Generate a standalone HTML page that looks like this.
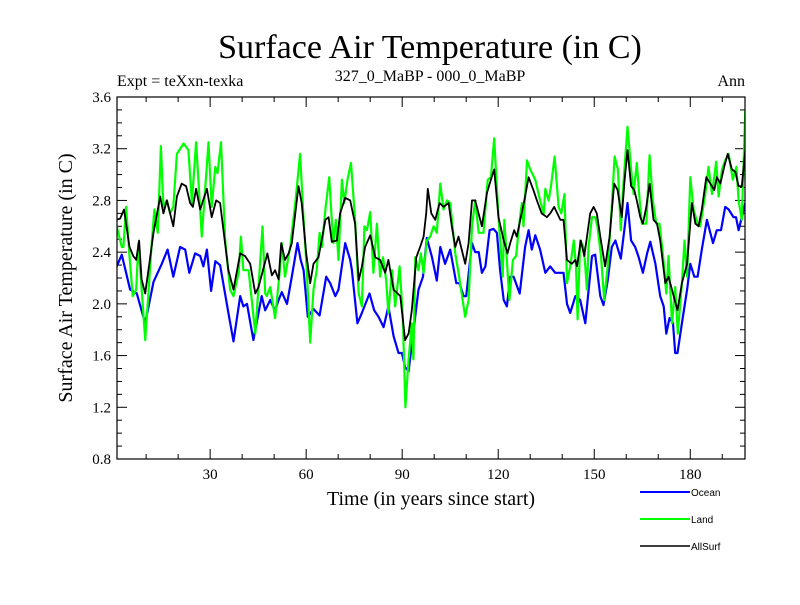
<!DOCTYPE html>
<html><head><meta charset="utf-8"><style>
body{margin:0;background:#fff;}
svg text{font-family:"Liberation Serif",serif;}
</style></head><body>
<svg id="chart" width="800" height="600" xmlns="http://www.w3.org/2000/svg">
<text x="430" y="58" font-size="34" text-anchor="middle">Surface Air Temperature (in C)</text>
<text x="117" y="86" font-size="16">Expt = teXxn-texka</text>
<text x="430" y="81" font-size="16" text-anchor="middle">327_0_MaBP - 000_0_MaBP</text>
<text x="745" y="86" font-size="16" text-anchor="end">Ann</text>
<text transform="translate(72,278) rotate(-90)" font-size="20" text-anchor="middle">Surface Air Temperature (in C)</text>
<text x="431" y="505" font-size="20" text-anchor="middle">Time (in years since start)</text>
<g id="axes"></g>
<defs><clipPath id="clip"><rect x="117" y="97" width="628" height="362"/></clipPath></defs>
<g id="series" clip-path="url(#clip)"></g>
<rect x="117" y="97" width="628" height="362" fill="none" stroke="#000" stroke-width="1.2"/>
<g font-family="Liberation Sans, sans-serif" font-size="10">
<line x1="640" y1="492" x2="690" y2="492" stroke="#0000ff" stroke-width="2"/>
<text x="691" y="496" style="font-family:'Liberation Sans',sans-serif" font-size="10">Ocean</text>
<line x1="640" y1="519" x2="690" y2="519" stroke="#00ff00" stroke-width="2"/>
<text x="691" y="523" style="font-family:'Liberation Sans',sans-serif" font-size="10">Land</text>
<line x1="640" y1="546" x2="690" y2="546" stroke="#000" stroke-width="1.5"/>
<text x="691" y="550" style="font-family:'Liberation Sans',sans-serif" font-size="10">AllSurf</text>
</g>
</svg>
<script>
const oceanYears=[0.8,2.4,5,7.1,9.7,12.3,14.9,16.7,18.5,20.6,22.2,23.5,25.3,26.9,27.9,29,30.3,31.6,33.1,35.7,37.3,39.4,40.4,41.5,43.5,46.1,47.2,48.75,50.3,51.4,52.4,54,55.5,57.3,58.3,59.2,60.5,62.3,64.2,66.25,67.5,69.1,70.1,72.2,73.75,74.3,76,77.4,79.8,81.25,82.6,84.2,85.7,87.3,88.85,89.9,90.9,92,93.3,95.1,96.5,97.7,99.3,100.8,101.9,103.4,105,106.9,107.9,109.2,110,111.8,112.8,113.9,114.9,116,117.3,118.5,119.6,120.6,121.7,122.7,123.75,124.8,126.7,128.4,129.5,130.5,131.6,133.1,134.7,136.25,137.8,139.4,140.4,141.5,142.5,144.1,145.6,147.2,149.3,150.3,151.9,152.9,154.2,155.5,156.6,158.3,159.4,160.4,161.5,162.8,163.9,165.2,166.5,167.5,169.1,170.6,171.7,172.5,173.5,174.6,175.3,176,177.4,179,180,181.25,182.3,183.6,185.2,187.1,188.3,189.6,190.9,192,193.5,194.3,195.1,196.1,197.2];
const oceanVals=[2.29,2.38,2.11,2.08,1.85,2.17,2.31,2.42,2.21,2.44,2.42,2.24,2.39,2.37,2.29,2.42,2.1,2.33,2.30,1.93,1.71,2.06,1.98,2.0,1.72,2.06,1.95,2.03,1.95,2.03,2.09,2.0,2.21,2.47,2.34,2.26,1.90,1.96,1.91,2.21,2.16,2.06,2.11,2.47,2.34,2.26,1.85,1.93,2.08,1.95,1.90,1.82,1.98,1.75,1.62,1.62,1.51,1.48,1.75,2.11,2.21,2.51,2.36,2.18,2.44,2.31,2.42,2.16,2.16,2.06,2.06,2.47,2.40,2.40,2.24,2.29,2.57,2.58,2.55,2.26,2.03,1.98,2.21,2.21,2.08,2.44,2.57,2.42,2.53,2.42,2.24,2.29,2.24,2.24,2.24,2.0,1.93,2.06,2.03,1.85,2.37,2.38,2.06,1.99,2.18,2.44,2.49,2.35,2.57,2.78,2.49,2.44,2.36,2.24,2.39,2.48,2.31,2.06,1.98,1.77,1.89,1.85,1.62,1.62,1.85,2.11,2.31,2.21,2.21,2.42,2.65,2.47,2.57,2.57,2.75,2.73,2.67,2.67,2.57,2.67,2.78];
const landYears=[0.8,2.4,2.9,3.75,4.8,5.8,6.9,7.6,9.7,10.7,11.8,12.6,13.65,14.6,15.4,16.5,17.5,18.5,19.6,21.7,23.2,24.3,25.6,27.4,29.5,30.5,31.6,32.3,33.4,34.7,36.25,37.3,38.9,39.6,40.4,42,44.1,45.1,46.35,47.2,47.7,48.75,50.3,51.8,52.4,53.4,55,56.6,58.1,59.2,60.2,61.25,62.3,63.3,64.2,64.9,66,67.2,68,68.5,69.3,70.1,71.15,71.9,72.9,74,75.3,76.4,77.4,78.2,79,80,81,82.1,83.1,84,85,85.7,86.8,87.8,89.2,90.2,91,92,93,93.5,94.1,95.1,95.8,96.7,97.7,98.75,99.8,100.8,101.9,102.9,104,105,106.6,107.6,109.7,110.75,111.8,112.8,113.9,115.4,116.7,117.7,118.75,120.1,121.4,121.9,123.5,124.6,125.6,126.7,127.4,127.9,129,130,131.6,133.1,134.2,134.7,135.75,136.5,137.6,138.85,139.7,140.7,141.5,142.5,143.6,144.3,144.8,145.6,146.7,147.2,147.7,148.2,149.3,150.3,151,152.1,153.1,154.2,155.5,156.35,157.4,158.3,159.2,160.4,161.5,162.3,163.3,164.2,164.9,166.25,167.3,168.3,169.4,170.4,171.5,172.5,173.2,174.3,175.3,176.1,177.4,178.2,179,180,181.05,182.3,183.1,184.7,185.7,186.8,188.1,188.85,189.9,190.9,192,193.3,194.4,195.1,196.1,197.2];
const landVals=[2.60,2.44,2.44,2.75,2.37,2.06,2.11,2.47,1.72,2.08,2.49,2.73,2.55,3.22,2.75,2.80,2.70,2.75,3.16,3.24,3.19,2.78,3.25,2.52,3.25,2.75,3.06,3.01,3.25,2.49,2.11,2.06,2.24,2.52,2.26,2.26,1.77,2.13,2.60,2.08,2.06,2.13,1.89,2.26,2.47,2.21,2.44,2.78,3.16,2.65,2.26,1.70,2.11,2.26,2.55,2.44,2.73,2.98,2.65,2.47,2.65,2.34,2.96,2.78,2.96,3.09,2.65,2.08,1.98,2.60,2.57,2.71,2.24,2.62,2.21,2.36,2.18,1.93,2.26,1.98,2.29,1.90,1.20,1.57,1.85,1.57,2.36,2.26,2.39,2.24,2.49,2.52,2.60,2.55,2.93,2.73,2.80,2.78,2.39,2.24,1.90,2.03,2.60,2.80,2.55,2.55,2.96,2.98,3.28,2.67,2.21,2.65,2.03,2.34,2.37,2.65,2.78,2.60,3.11,3.04,2.96,2.80,2.70,2.89,2.80,2.91,3.14,2.75,2.70,2.85,2.16,2.29,2.49,2.29,1.88,2.49,2.44,2.29,2.11,2.44,2.67,2.67,2.60,2.37,2.03,2.29,2.75,3.14,3.04,2.57,2.96,3.37,3.04,2.85,3.09,2.80,2.62,2.62,3.15,2.80,2.62,2.62,2.37,2.08,2.37,1.85,2.13,1.77,2.16,2.49,2.21,2.98,2.73,2.62,2.60,2.85,3.06,2.85,3.10,2.83,3.04,3.11,3.16,2.96,3.06,2.80,2.65,3.50];
const allYears=[0.8,1.9,3.1,4.8,6.0,6.9,7.8,8.6,9.7,11.0,12.3,14.4,15.4,16.5,18.5,19.6,21.1,22.5,23.75,24.6,25.6,26.9,29,30.5,31.9,33.1,35.7,37.3,39.4,40.9,42.5,44.1,45.1,47.9,49.3,50.3,51.4,52.2,53.4,54.5,55.5,56.6,57.6,58.6,60,61.25,62.3,63.85,66,67,68,69.6,70.6,72.2,73.75,75.3,76.4,77.4,78.4,80,81.6,83.1,84.7,85.7,87.3,89.4,90.9,92,93,94.4,95.6,96.7,97.5,98,99.1,100.3,101.7,102.9,104.5,105.5,106.6,107.6,109.7,110.75,111.8,112.8,114.9,116.5,117.7,118.75,120.1,121.7,122.9,123.75,125,125.8,126.9,128.4,129.5,131,132.1,133.6,135.2,136.25,137.5,139.4,140.4,141.5,143,144.1,144.6,145.8,146.9,148.75,149.8,150.8,151.9,153.4,154.8,156.25,157.3,158.6,159.4,160.4,161.5,162.5,163.3,164.4,165.2,166.25,167.3,168.5,169.6,170.6,172.2,173.2,174.6,176,177.4,179,180.5,181.6,182.6,183.6,185,186.25,187.5,188.3,189.4,190.6,191.7,193,194.1,195.1,196.1,197.2];
const allVals=[2.65,2.66,2.73,2.44,2.37,2.34,2.49,2.19,2.08,2.31,2.55,2.83,2.70,2.80,2.60,2.83,2.93,2.91,2.78,2.75,2.89,2.73,2.89,2.67,2.80,2.78,2.26,2.11,2.39,2.37,2.31,2.08,2.13,2.39,2.22,2.26,2.19,2.47,2.34,2.39,2.47,2.70,2.91,2.78,2.39,2.16,2.31,2.36,2.65,2.67,2.48,2.49,2.70,2.82,2.80,2.62,2.18,2.29,2.44,2.53,2.36,2.34,2.24,2.34,2.11,2.06,1.72,1.77,1.95,2.36,2.44,2.52,2.70,2.89,2.70,2.65,2.78,2.75,2.78,2.60,2.44,2.52,2.31,2.47,2.80,2.80,2.60,2.86,2.96,3.04,2.67,2.49,2.39,2.47,2.57,2.52,2.65,2.83,2.98,2.88,2.80,2.70,2.67,2.70,2.75,2.65,2.65,2.34,2.31,2.34,2.29,2.49,2.37,2.70,2.75,2.70,2.52,2.29,2.52,2.93,2.88,2.67,2.93,3.19,2.91,2.88,2.80,2.67,2.62,2.75,2.93,2.65,2.62,2.49,2.16,2.21,2.08,1.95,2.16,2.31,2.78,2.62,2.60,2.73,2.98,2.93,2.88,2.98,2.93,3.06,3.16,3.04,3.02,2.91,2.91,3.19];
const yTicks=[0.8,1.2,1.6,2.0,2.4,2.8,3.2,3.6];
const yTickLabels=["0.8","1.2","1.6","2.0","2.4","2.8","3.2","3.6"];
const xTicks=[30,60,90,120,150,180];

const L=117,R=745,T=97,B=459,XMIN=0.9,XMAX=197.1,YMIN=0.8,YMAX=3.6;
const xs=v=>L+(v-XMIN)/(XMAX-XMIN)*(R-L);
const ys=v=>B-(v-YMIN)/(YMAX-YMIN)*(B-T);
const NS="http://www.w3.org/2000/svg";
const axes=document.getElementById('axes');
function mk(tag,attrs,parent){const e=document.createElementNS(NS,tag);for(const k in attrs)e.setAttribute(k,attrs[k]);parent.appendChild(e);return e;}
for(let v=0.8;v<=3.6001;v+=0.1){
  const y=ys(v);const major=Math.abs(v*10/4-Math.round(v*10/4))<0.01;const len=major?10:5;
  const t1=mk('line',{x1:L,x2:L+len,y1:y,y2:y,stroke:'#000','stroke-width':1},axes);
  
  
  const t2=mk('line',{x1:R,x2:R-len,y1:y,y2:y,stroke:'#000','stroke-width':1},axes);
  
  
}
yTicks.forEach((v,i)=>{
  const t=mk('text',{x:L-6,y:ys(v)+5,'font-size':15,'text-anchor':'end'},axes);
  t.textContent=yTickLabels[i];
  
  
});
for(let v=10;v<=190;v+=10){
  const x=xs(v);const major=v%30===0;const len=major?10:5;
  const t1=mk('line',{x1:x,x2:x,y1:B,y2:B-len,stroke:'#000','stroke-width':1},axes);
  
  
  const t2=mk('line',{x1:x,x2:x,y1:T,y2:T+len,stroke:'#000','stroke-width':1},axes);
  
  
}
xTicks.forEach(v=>{
  const t=mk('text',{x:xs(v),y:B+20,'font-size':15,'text-anchor':'middle'},axes);
  t.textContent=String(v);
  
  
});
const series=document.getElementById('series');
function draw(xv,yv,color,w,name){
  const d=xv.map((x,i)=>(i?'L':'M')+xs(x).toFixed(1)+','+ys(yv[i]).toFixed(1)).join('');
  const p=mk('path',{d:d,fill:'none',stroke:color,'stroke-width':w,'stroke-linejoin':'round'},series);
  
  
}
draw(oceanYears,oceanVals,'#0000ff',2.2,'ocean-line');
draw(landYears,landVals,'#00ff00',2.2,'land-line');
draw(allYears,allVals,'#000000',1.8,'allsurf-line');
</script>
</body></html>
